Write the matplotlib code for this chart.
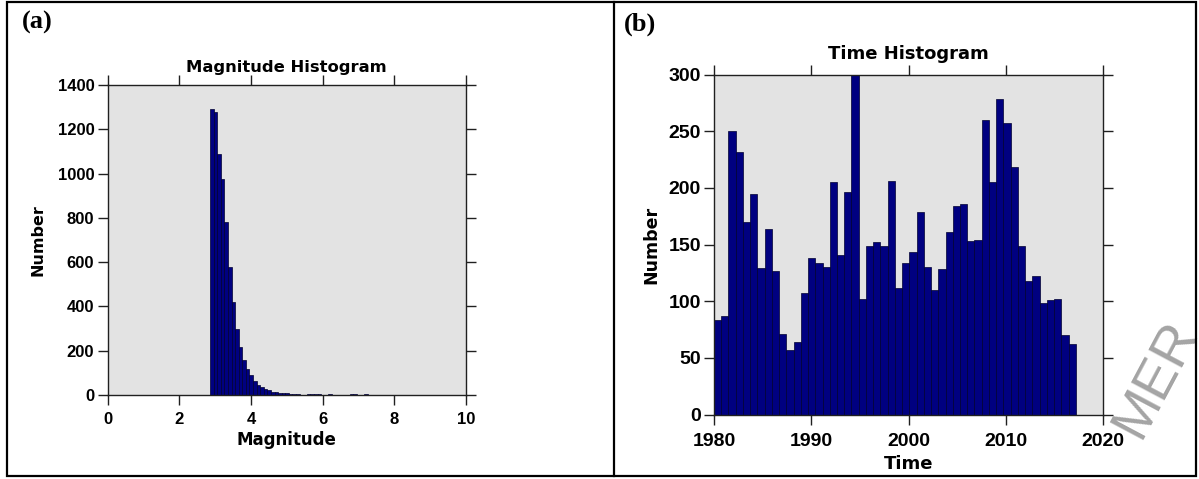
import numpy as np
import matplotlib.pyplot as plt
from matplotlib.patches import Rectangle
from matplotlib.lines import Line2D

# Magnitude histogram: 0.1-wide bins starting at 2.86
mag_start = 2.86
mag_width = 0.1
mag_counts = [1293, 1278, 1090, 977, 782, 577, 422, 299, 218, 158,
              116, 90, 62, 45, 38, 27, 22, 15, 13, 11,
              9, 8, 6, 5, 3, 2, 2, 3, 4, 4,
              3, 1, 2, 3, 1, 1, 0, 1, 0, 3,
              3, 0, 1, 3, 2]

# Time histogram: 50 bins between 1980 and 2017.2
time_start = 1980.0
time_end = 2017.2
time_counts = [83, 87, 250, 232, 170, 195, 129, 164, 127, 71,
               57, 64, 107, 138, 134, 130, 205, 141, 196, 300,
               102, 149, 152, 149, 206, 112, 134, 143, 179, 130,
               110, 128, 161, 184, 186, 153, 154, 260, 205, 278,
               257, 218, 149, 118, 122, 98, 101, 102, 70, 62]

mag_ticks = [0, 2, 4, 6, 8, 10]
mag_yticks = [0, 200, 400, 600, 800, 1000, 1200, 1400]
time_ticks = [1980, 1990, 2000, 2010, 2020]
time_yticks = [0, 50, 100, 150, 200, 250, 300]

W, H = 1199, 479
BAR = "#000080"
FACE = "#e3e3e3"
NUM = "Liberation Sans"   # tick numbers
TXT = "DejaVu Sans"       # titles and axis labels
SERIF = "Liberation Serif"

fig = plt.figure(figsize=(W / 100, H / 100), dpi=100)


def px_axes(left, top, right, bottom):
    return fig.add_axes([left / W, 1 - bottom / H, (right - left) / W, (bottom - top) / H])


def style(ax, fs, xpad):
    ax.set_facecolor(FACE)
    for s in ax.spines.values():
        s.set_color("#202020")
        s.set_linewidth(1.0)
    ax.tick_params(direction="out", length=7, width=1.0, color="#202020",
                   top=True, right=True, labelsize=fs)
    ax.tick_params(axis="x", pad=xpad)
    ax.tick_params(axis="y", pad=2.5)
    for lab in ax.get_xticklabels() + ax.get_yticklabels():
        lab.set_fontfamily(NUM)
        lab.set_fontweight("bold")


# (a) magnitude
ax1 = px_axes(107.5, 85, 466, 395)
mag_edges = mag_start + mag_width * np.arange(len(mag_counts) + 1)
ax1.bar(mag_edges[:-1], mag_counts, width=mag_width, align="edge",
        color=BAR, edgecolor="#000030", linewidth=0.5)
ax1.set_xlim(0, 10)
ax1.set_ylim(0, 1400)
ax1.set_xticks(mag_ticks)
ax1.set_yticks(mag_yticks)
style(ax1, 12, 5)
ax1.set_title("Magnitude Histogram", family=TXT, weight="bold", fontsize=11.8, pad=9)
ax1.set_xlabel("Magnitude", family=TXT, weight="bold", fontsize=12, labelpad=3)
ax1.set_ylabel("Number", family=TXT, weight="bold", fontsize=11.5, labelpad=9)

# (b) time
ax2 = px_axes(714, 74.5, 1103, 414.5)
time_edges = np.linspace(time_start, time_end, len(time_counts) + 1)
ax2.bar(time_edges[:-1], time_counts, width=np.diff(time_edges), align="edge",
        color=BAR, edgecolor="#000030", linewidth=0.5)
ax2.set_xlim(1980, 2020)
ax2.set_ylim(0, 300)
ax2.set_xticks(time_ticks)
ax2.set_yticks(time_yticks)
style(ax2, 14, 6)
ax2.set_title("Time Histogram", family=TXT, weight="bold", fontsize=13, pad=11)
ax2.set_xlabel("Time", family=TXT, weight="bold", fontsize=13, labelpad=4)
ax2.set_ylabel("Number", family=TXT, weight="bold", fontsize=12.5, labelpad=6)

# panel letters
fig.text(22 / W, 1 - 22 / H, "(a)", family=SERIF, weight="bold", fontsize=19,
         ha="left", va="center")
fig.text(624 / W, 1 - 24 / H, "(b)", family=SERIF, weight="bold", fontsize=19,
         ha="left", va="center")

# table frame around both panels
fig.add_artist(Rectangle((7 / W, 1 - 476 / H), (1196 - 7) / W, (476 - 2) / H,
                         transform=fig.transFigure, fill=False,
                         edgecolor="black", linewidth=1.6))
fig.add_artist(Line2D([614 / W, 614 / W], [1 - 476 / H, 1 - 2 / H],
                      transform=fig.transFigure, color="black", linewidth=1.6))

# watermark running off the right edge, behind everything else
fig.text(1140 / W, 1 - 440 / H, "MER", family=NUM, fontsize=40,
         color="#a4a4a4", rotation=62, ha="left", va="baseline",
         rotation_mode="anchor", zorder=-1)

fig.savefig("out.png", dpi=100)
